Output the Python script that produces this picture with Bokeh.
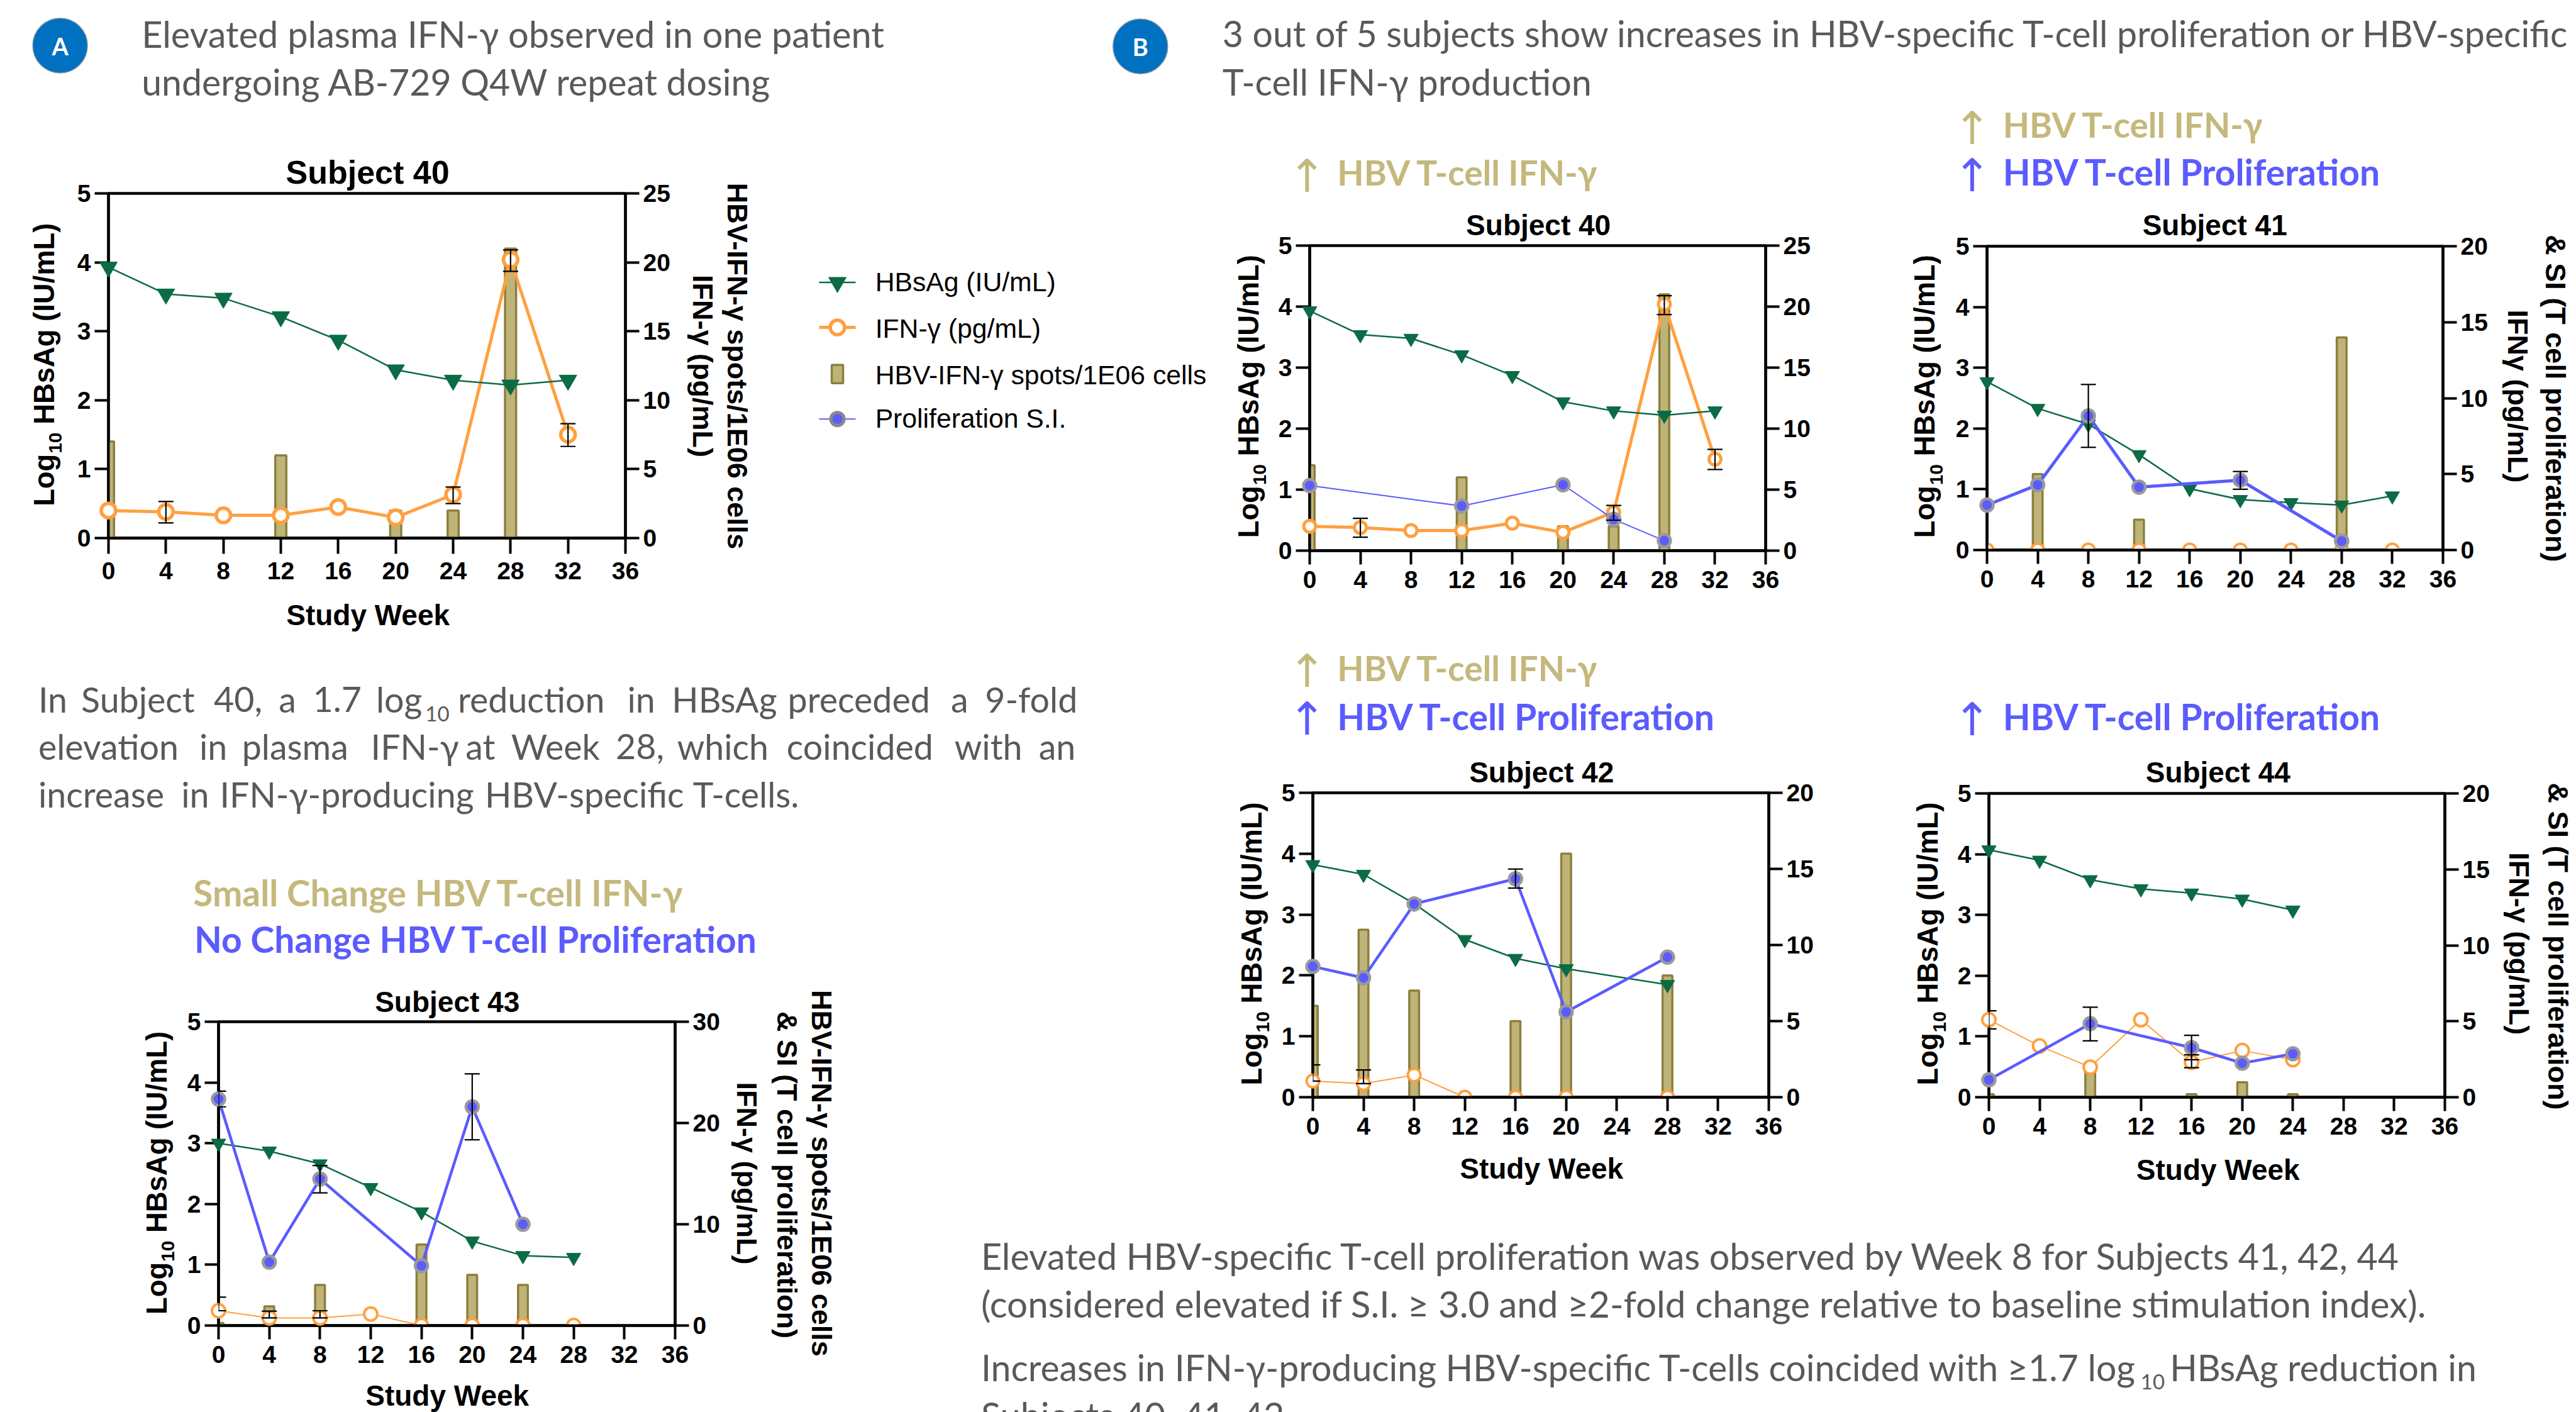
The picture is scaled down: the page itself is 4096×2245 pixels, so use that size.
import math
from bokeh.core.properties import value
from bokeh.embed import file_html
from bokeh.layouts import GridBox
from bokeh.models import (Column, ColumnDataSource, FixedTicker, LinearAxis, Range1d, TeeHead, Whisker)
from bokeh.plotting import figure
from bokeh.resources import INLINE

# ---------- data ----------
weeks_40 = [0, 4, 8, 12, 16, 20, 24, 28, 32]
hbsag_40 = [3.93, 3.54, 3.48, 3.21, 2.87, 2.44, 2.29, 2.22, 2.29]
ifn_40 = [2.0, 1.9, 1.65, 1.65, 2.25, 1.5, 3.15, 20.2, 7.5]
ifn_err_40 = [(4, 1.1, 2.65), (24, 2.5, 3.7), (28, 19.35, 20.9), (32, 6.65, 8.3)]
spot_weeks_40 = [0, 12, 20, 24, 28]
spots_40 = [7, 6, 2, 2, 21]
si_weeks_40 = [0, 12, 20, 24, 28]
si_40 = [5.33, 3.66, 5.4, 2.57, 0.82]

weeks_41 = [0, 4, 8, 12, 16, 20, 24, 28, 32]
hbsag_41 = [2.77, 2.33, 2.07, 1.57, 1.01, 0.83, 0.78, 0.74, 0.89]
ifn_41 = [0, 0, 0, 0, 0, 0, 0, 0, 0]
spot_weeks_41 = [4, 12, 28]
spots_41 = [5, 2, 14]
si_weeks_41 = [0, 4, 8, 12, 20, 28]
si_41 = [2.96, 4.29, 8.83, 4.14, 4.6, 0.59]
si_err_41 = [(8, 6.76, 10.9), (20, 4.0, 5.17)]

weeks_42 = [0, 4, 8, 12, 16, 20, 28]
hbsag_42 = [3.82, 3.66, 3.18, 2.59, 2.28, 2.11, 1.85]
ifn_42 = [1.06, 0.89, 1.46, 0, 0, 0, 0]
ifn_err_42 = [(0, 1.06, 2.12), (4, 0.89, 1.79)]
spot_weeks_42 = [0, 4, 8, 16, 20, 28]
spots_42 = [6, 11, 7, 5, 16, 8]
si_weeks_42 = [0, 4, 8, 16, 20, 28]
si_42 = [8.59, 7.84, 12.7, 14.35, 5.6, 9.2]
si_err_42 = [(16, 13.74, 14.99)]

weeks_43 = [0, 4, 8, 12, 16, 20, 24, 28]
hbsag_43 = [3.0, 2.87, 2.66, 2.27, 1.87, 1.39, 1.15, 1.12]
ifn_43 = [1.46, 0.75, 0.75, 1.14, 0, 0, 0, 0]
ifn_err_43 = [(0, 1.46, 2.8), (4, 0.75, 1.42), (8, 0.75, 1.46)]
spot_weeks_43 = [0, 4, 8, 16, 20, 24]
spots_43 = [0.25, 1.9, 4, 8, 5, 4]
si_weeks_43 = [0, 4, 8, 16, 20, 24]
si_43 = [22.36, 6.26, 14.47, 5.9, 21.6, 10]
si_err_43 = [(0, 21.6, 23.14), (8, 13.1, 15.8), (20, 18.34, 24.85)]

weeks_44 = [0, 4, 8, 12, 16, 20, 24]
hbsag_44 = [4.07, 3.90, 3.58, 3.43, 3.36, 3.26, 3.08]
ifn_44 = [5.1, 3.37, 1.98, 5.1, 2.3, 3.07, 2.47]
ifn_err_44 = [(0, 4.5, 5.69), (16, 1.94, 2.79)]
spot_weeks_44 = [0, 8, 16, 20, 24]
spots_44 = [0.2, 1.83, 0.2, 0.98, 0.2]
si_weeks_44 = [0, 8, 16, 20, 24]
si_44 = [1.15, 4.84, 3.26, 2.24, 2.86]
si_err_44 = [(8, 3.71, 5.93), (16, 2.47, 4.07)]

x_ticks = list(range(0, 40, 4))

# ---------- page geometry (reference pixels -> page pixels) ----------
K = 4096 / 4867
PAGE_W, PAGE_H = 4096, 2245
def X(r): return r * K
def Y(r): return r * K

GREEN, ORANGE, BLUE = "#0B6B45", "#FFA040", "#5B5BFF"
GOLD_TXT, GOLD_FILL, GOLD_LINE = "#C4B87C", "#BFB478", "#8C7F3E"
GRAY, RING = "#595959", "#9A9A9A"
BODY, SANS = "Lato", "Liberation Sans"
BASE_FIX = 0.37   # measured offset of alphabetic text in this renderer, in em

base = figure(width=PAGE_W, height=PAGE_H, x_range=(0, PAGE_W), y_range=(PAGE_H, 0),
              output_backend="svg", toolbar_location=None, min_border=0)
base.axis.visible = False
base.grid.visible = False
base.outline_line_color = None
base.background_fill_alpha = 0
base.border_fill_alpha = 0


def txt(x, y, s, size, color="black", font=BODY, style="normal", align="left",
        baseline="alphabetic", angle=0):
    if baseline == "alphabetic":
        if angle:
            x -= BASE_FIX * size
        else:
            y -= BASE_FIX * size
    base.text([x], [y], text=[s], text_font=value(font), text_font_size=f"{size:.1f}px",
              text_font_style=style, text_color=color, text_align=align,
              text_baseline=baseline, angle=angle)


def rtxt(x, y, s, size, **kw):
    txt(X(x), Y(y), s, size, **kw)


def left_label(xc, yc):
    size, sub = 45.4, 30
    bx, y0 = X(xc) + 0.36 * size, Y(yc) + 224.5
    kw = dict(font=SANS, style="bold", angle=math.pi / 2)
    txt(bx, y0, "Log", size, **kw)
    txt(bx + 12, y0 - 84, "10", sub, **kw)
    txt(bx, y0 - 130, "HBsAg (IU/mL)", size, **kw)


def right_label(xc, yc, s):
    rtxt(xc, yc, s, 45, font=SANS, style="bold", align="center", baseline="middle",
         angle=-math.pi / 2)


def panel(x0, x36, y5, y0, r_max, r_step, weeks, hbsag, ifn, spot_weeks, spots,
          si_weeks=None, si=None, ifn_err=(), si_err=(), ifn_w=2, si_w=4.5,
          ifn_size=20, ifn_stroke=4, tri_size=23, x_tick=22, x_standoff=10):
    L, R, T, B = 130, 130, 20, 100
    fw, fh = round((x36 - x0) * K), round((y0 - y5) * K)
    p = figure(frame_width=fw, frame_height=fh, x_range=(0, 36), y_range=(0, 5),
               output_backend="svg", toolbar_location=None, min_border_left=L,
               min_border_right=R, min_border_top=T, min_border_bottom=B,
               margin=(round(Y(y5)) - T, 0, 0, round(X(x0)) - L), align="start")
    p.grid.visible = False
    p.background_fill_alpha = 0
    p.border_fill_alpha = 0
    p.outline_line_color = "black"
    p.outline_line_width = 4.5
    p.extra_y_ranges = {"r": Range1d(0, r_max)}
    p.add_layout(LinearAxis(y_range_name="r", ticker=FixedTicker(ticks=list(range(0, r_max + 1, r_step)))), "right")
    p.xaxis.ticker = FixedTicker(ticks=x_ticks)
    p.yaxis[0].ticker = FixedTicker(ticks=[0, 1, 2, 3, 4, 5])
    for ax in p.axis:
        ax.axis_line_width = 4
        ax.major_tick_line_width = 4
        ax.minor_tick_line_color = None
        ax.major_tick_in = 0
        ax.major_tick_out = 22
        ax.major_label_text_font = SANS
        ax.major_label_text_font_style = "bold"
        ax.major_label_text_font_size = "39px"
        ax.major_label_text_color = "black"
        ax.major_label_standoff = 6
    p.xaxis.major_tick_out = x_tick
    p.xaxis.major_label_standoff = x_standoff

    # bars
    p.vbar(x=spot_weeks, top=spots, bottom=0, width=0.77, y_range_name="r", fill_color=GOLD_FILL,
           line_color=GOLD_LINE, line_width=3.5)
    # HBsAg line
    p.line(weeks[:len(hbsag)], hbsag, line_color=GREEN, line_width=2.5, level="overlay")
    p.scatter(weeks[:len(hbsag)], hbsag, marker="inverted_triangle", size=tri_size, fill_color=GREEN,
              line_color=GREEN, level="overlay")
    # IFN
    p.line(weeks, ifn, y_range_name="r", line_color=ORANGE, line_width=ifn_w)
    zero = [(w, v) for w, v in zip(weeks, ifn) if v == 0]
    live = [(w, v) for w, v in zip(weeks, ifn) if v != 0]

    def whisk(errs):
        if not errs:
            return
        src = ColumnDataSource(dict(x=[e[0] for e in errs], lo=[e[1] for e in errs], hi=[e[2] for e in errs]))
        head = dict(size=24, line_width=2.2, line_color="black")
        p.add_layout(Whisker(source=src, base="x", lower="lo", upper="hi", y_range_name="r",
                             line_color="black", line_width=2.2, level="overlay",
                             upper_head=TeeHead(**head), lower_head=TeeHead(**head)))

    whisk(ifn_err)
    for pts, lvl in ((zero, "glyph"), (live, "overlay")):
        if pts:
            p.scatter([a for a, _ in pts], [b for _, b in pts], y_range_name="r", marker="circle",
                      size=ifn_size, fill_color="white", line_color=ORANGE, line_width=ifn_stroke, level=lvl)
    # proliferation
    if si:
        whisk(si_err)
        p.line(si_weeks, si, y_range_name="r", line_color=BLUE, line_width=si_w, level="overlay")
        p.scatter(si_weeks, si, y_range_name="r", marker="circle", size=20, fill_color=BLUE,
                  line_color=RING, line_width=4.5, level="overlay")
    return p


panels = [
    panel(203.8, 1180.9, 365, 1016.3, 25, 5, weeks_40, hbsag_40, ifn_40, spot_weeks_40, spots_40,
          ifn_err=ifn_err_40, ifn_w=5, ifn_size=23, ifn_stroke=5.5, tri_size=28, x_tick=25, x_standoff=13),
    panel(411.8, 1274.5, 1930, 2504.4, 30, 10, weeks_43, hbsag_43, ifn_43, spot_weeks_43, spots_43,
          si_weeks_43, si_43, ifn_err_43, si_err_43, ifn_size=21),
    panel(2473.7, 3335.4, 463.5, 1039.3, 25, 5, weeks_40, hbsag_40, ifn_40, spot_weeks_40, spots_40,
          si_weeks_40, si_40, ifn_err_40, si_w=2, ifn_w=5, ifn_size=19, ifn_stroke=5),
    panel(3754, 4615.8, 464.2, 1037.9, 20, 5, weeks_41, hbsag_41, ifn_41, spot_weeks_41, spots_41,
          si_weeks_41, si_41, (), si_err_41, si_w=5),
    panel(2479.8, 3341.6, 1497.5, 2072.2, 20, 5, weeks_42, hbsag_42, ifn_42, spot_weeks_42, spots_42,
          si_weeks_42, si_42, ifn_err_42, si_err_42),
    panel(3757.5, 4619.2, 1497.8, 2072.2, 20, 5, weeks_44, hbsag_44, ifn_44, spot_weeks_44, spots_44,
          si_weeks_44, si_44, ifn_err_44, si_err_44, ifn_size=21),
]

# ---------- chart titles and axis labels ----------
for cx, cy, name, size in [(694, 325, "Subject 40", 52), (844.5, 1892.6, "Subject 43", 46), (2906, 425, "Subject 40", 46),
                           (4184, 425, "Subject 41", 46), (2912, 1459, "Subject 42", 46), (4190, 1459, "Subject 44", 46)]:
    rtxt(cx, cy, name, size, font=SANS, style="bold", align="center", baseline="middle")
for cx, cy in [(694.7, 1161), (844.5, 2636), (2912, 2207), (4190, 2209)]:
    rtxt(cx, cy, "Study Week", 46, font=SANS, style="bold", align="center", baseline="middle")
for xc, yc in [(84, 689), (296, 2216), (2359, 749), (3637, 749), (2365, 1783), (3643, 1783)]:
    left_label(xc, yc)
for xc, yc, s in [
    (1393, 691, "HBV-IFN-γ spots/1E06 cells"), (1327, 691, "IFN-γ (pg/mL)"),
    (1552, 2216, "HBV-IFN-γ spots/1E06 cells"), (1486, 2219, "& SI (T cell proliferation)"), (1411, 2216, "IFN-γ (pg/mL)"),
    (4828, 752, "& SI (T cell proliferation)"), (4757, 748, "IFNγ (pg/mL)"),
    (4832, 1787, "& SI (T cell proliferation)"), (4759, 1782, "IFN-γ (pg/mL)"),
]:
    right_label(xc, yc, s)

# ---------- legend ----------
LEG_X0, LEG_X1, LEG_XC, LEG_TX = X(1547), X(1616), X(1581.6), 1653
base.line([LEG_X0, LEG_X1], [Y(533)] * 2, line_color=GREEN, line_width=2.5)
base.scatter([LEG_XC], [Y(533)], marker="inverted_triangle", size=28, fill_color=GREEN, line_color=GREEN)
base.line([LEG_X0, LEG_X1], [Y(618)] * 2, line_color=ORANGE, line_width=5)
base.scatter([LEG_XC], [Y(618)], marker="circle", size=23, fill_color="white", line_color=ORANGE, line_width=5.5)
base.rect([LEG_XC], [Y(706)], width=18, height=29, fill_color=GOLD_FILL, line_color=GOLD_LINE, line_width=3.5)
base.line([LEG_X0, LEG_X1], [Y(791)] * 2, line_color=BLUE, line_width=2)
base.scatter([LEG_XC], [Y(791)], marker="circle", size=21, fill_color=BLUE, line_color="#888888", line_width=5)
for ty, s in [(532, "HBsAg (IU/mL)"), (620, "IFN-γ (pg/mL)"), (708, "HBV-IFN-γ spots/1E06 cells"), (790, "Proliferation S.I.")]:
    rtxt(LEG_TX, ty, s, 42.7, font=SANS, baseline="middle")

# ---------- badges ----------
for cx, cy, s in [(113, 85.6, "A"), (2154, 87, "B")]:
    base.scatter([X(cx)], [Y(cy)], marker="circle", size=87, fill_color="#0070C0", line_color="#8090A0", line_width=1.5)
    rtxt(cx, cy, s, 38, color="white", style="bold", align="center", baseline="middle")

# ---------- body text ----------
for x, y, s, size in [
    (267, 88, "Elevated plasma IFN-γ observed in one patient", 57.7),
    (267, 179, "undergoing AB-729 Q4W repeat dosing", 57.2),
    (2309, 88, "3 out of 5 subjects show increases in HBV-specific T-cell proliferation or HBV-specific", 57.2),
    (2309, 179, "T-cell IFN-γ production", 57.5),
    (1853, 2397, "Elevated HBV-specific T-cell proliferation was observed by Week 8 for Subjects 41, 42, 44", 57.4),
    (1853, 2487, "(considered elevated if S.I. ≥ 3.0 and ≥2-fold change relative to baseline stimulation index).", 58.3),
    (1853, 2608, "Increases in IFN-γ-producing HBV-specific T-cells coincided with ≥1.7 log", 57.2),
    (4099, 2608, "HBsAg reduction in", 57.2),
    (1853, 2698, "Subjects 40, 41, 42", 57.5),
]:
    rtxt(x, y, s, size, color=GRAY)
rtxt(4044, 2624, "10", 33, color=GRAY)

PARA_SIZE = 55.5
para = [
    (1345, [(71.8, "In"), (152.8, "Subject"), (403.5, "40,"), (526, "a"), (590.5, "1.7"), (710, "log"),
            (864.4, "reduction"), (1184.6, "in"), (1268.8, "HBsAg"), (1487.7, "preceded"), (1796, "a"), (1860.5, "9-fold")]),
    (1434, [(71.8, "elevation"), (376, "in"), (456.5, "plasma"), (700, "IFN-γ"), (879, "at"), (965, "Week"),
            (1162.7, "28,"), (1278.8, "which"), (1485.7, "coincided"), (1802.8, "with"), (1962, "an")]),
    (1524, [(71.8, "increase"), (341.8, "in"), (414.7, "IFN-γ-producing"), (915.5, "HBV-specific"), (1308.6, "T-cells.")]),
]
for y, words in para:
    for x, w in words:
        rtxt(x, y, w, PARA_SIZE, color=GRAY)
rtxt(803, 1362, "10", 33, color=GRAY)

# ---------- coloured headers ----------
for x, y, s, c, size in [
    (2526, 325, "HBV T-cell IFN-γ", GOLD_TXT, 55),
    (3783.5, 235, "HBV T-cell IFN-γ", GOLD_TXT, 55), (3783.5, 324, "HBV T-cell Proliferation", BLUE, 57),
    (2526, 1261.5, "HBV T-cell IFN-γ", GOLD_TXT, 55), (2526, 1353, "HBV T-cell Proliferation", BLUE, 57),
    (3783.5, 1353, "HBV T-cell Proliferation", BLUE, 57),
    (364.6, 1685, "Small Change HBV T-cell IFN-γ", GOLD_TXT, 56.7), (366.5, 1773.5, "No Change HBV T-cell Proliferation", BLUE, 57),
]:
    rtxt(x, y, s, size, color=c, style="bold", baseline="middle")
for x, y, c in [(2469, 332, GOLD_TXT), (3725.5, 242, GOLD_TXT), (3725.5, 331, BLUE), (2469, 1267.5, GOLD_TXT),
                (2469, 1358, BLUE), (3725.5, 1358.5, BLUE)]:
    rtxt(x, y, "↑", 72, color=c, font="DejaVu Sans", align="center", baseline="middle")

page = GridBox(children=[(Column(children=[base]), 0, 0)] + [(Column(children=[p]), 0, 0) for p in panels],
               sizing_mode="fixed", width=PAGE_W, height=PAGE_H)
open("out.html", "w").write(file_html(page, INLINE))
